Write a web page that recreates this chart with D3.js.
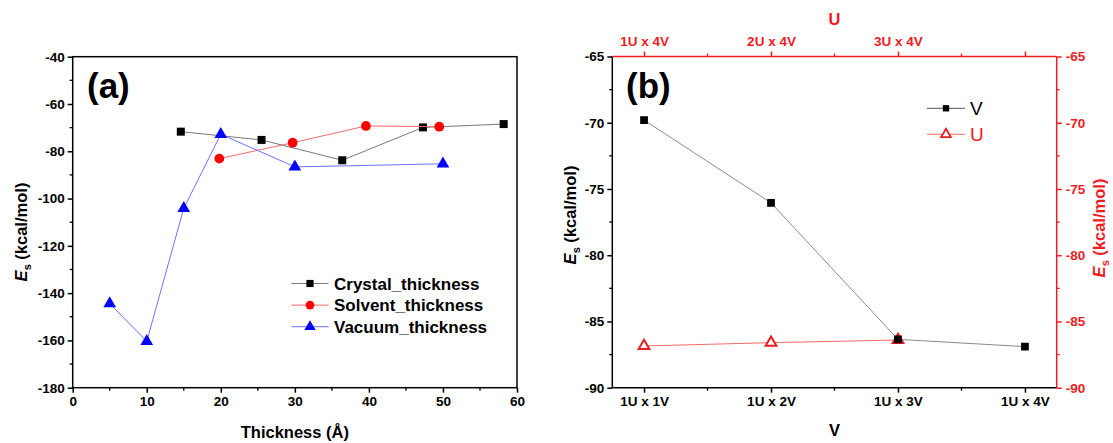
<!DOCTYPE html>
<html>
<head>
<meta charset="utf-8">
<script src="https://cdn.jsdelivr.net/npm/d3@7"></script>
<style>
  body { margin: 0; background: #fff; }
  svg text { font-family: "Liberation Sans", Arial, sans-serif; }
</style>
</head>
<body>
<div id="chart"></div>
<script>
// panel (a) data
var crystalX = [14.6, 25.5, 36.4, 47.3, 58.2];
var crystalY = [-71.7, -75.2, -83.8, -69.9, -68.5];
var solventX = [19.8, 29.7, 39.6, 49.5];
var solventY = [-83.1, -76.4, -69.3, -69.6];
var vacuumX = [5, 10, 15, 20, 30, 50];
var vacuumY = [-144.4, -160.4, -104.1, -72.8, -86.6, -85.3];
var aXTicks = [0, 10, 20, 30, 40, 50, 60];
var aYTicks = [-40, -60, -80, -100, -120, -140, -160, -180];

// panel (b) data
var vLabels = ["1U x 1V", "1U x 2V", "1U x 3V", "1U x 4V"];
var uLabels = ["1U x 4V", "2U x 4V", "3U x 4V", ""];
var vValues = [-69.8, -76.05, -86.35, -86.9];
var uValues = [-86.85, -86.6, -86.4];
var bYTicks = [-65, -70, -75, -80, -85, -90];

const W = 1113, H = 443;
const tickFont = 13.5, titleFont = 16.5;
var svg = d3.select("#chart").append("svg")
    .attr("width", W).attr("height", H);

var fmt = d => String(d); // plain hyphen minus like the original

function esTitle(g, x, y, color) {
    var t = g.append("text")
        .attr("transform", "translate(" + x + "," + y + ") rotate(-90)")
        .attr("text-anchor", "middle")
        .attr("font-size", titleFont).attr("font-weight", "bold")
        .attr("fill", color);
    t.append("tspan").attr("font-style", "italic").text("E");
    t.append("tspan").attr("font-size", 11).attr("dy", 4).text("s");
    t.append("tspan").attr("dy", -4).text(" (kcal/mol)");
}

function minorTicks(lo, hi, step) {
    var out = [];
    for (var v = lo; v <= hi + 1e-9; v += step) out.push(+v.toFixed(4));
    return out;
}

function styleAxis(g, color) {
    g.select(".domain").remove();
    g.selectAll(".tick line").attr("stroke", color).attr("stroke-width", 1.5);
    g.selectAll(".tick text").attr("font-size", tickFont).attr("font-weight", "bold")
        .attr("fill", color).attr("font-family", "Liberation Sans, Arial, sans-serif");
}

// ---------------- panel (a) ----------------
var a = {left: 72.7, right: 517, top: 56.7, bottom: 387.7};
var ax = d3.scaleLinear().domain([0, 60]).range([a.left, a.right]);
var ay = d3.scaleLinear().domain([-180, -40]).range([a.bottom, a.top]);
var ga = svg.append("g");

// frame
ga.append("rect").attr("x", a.left).attr("y", a.top)
    .attr("width", a.right - a.left).attr("height", a.bottom - a.top)
    .attr("fill", "none").attr("stroke", "#000").attr("stroke-width", 1.5);

// minor ticks
ga.selectAll("line.mx").data(minorTicks(5, 55, 10)).enter().append("line")
    .attr("x1", d => ax(d)).attr("x2", d => ax(d))
    .attr("y1", a.bottom).attr("y2", a.bottom + 3)
    .attr("stroke", "#000").attr("stroke-width", 1.3);
ga.selectAll("line.my").data(minorTicks(-170, -50, 20)).enter().append("line")
    .attr("y1", d => ay(d)).attr("y2", d => ay(d))
    .attr("x1", a.left).attr("x2", a.left - 3)
    .attr("stroke", "#000").attr("stroke-width", 1.3);

styleAxis(ga.append("g").attr("transform", "translate(0," + a.bottom + ")")
    .call(d3.axisBottom(ax).tickValues(aXTicks).tickFormat(fmt).tickSize(5).tickPadding(4)), "#000");
styleAxis(ga.append("g").attr("transform", "translate(" + a.left + ",0)")
    .call(d3.axisLeft(ay).tickValues(aYTicks).tickFormat(fmt).tickSize(5).tickPadding(3)), "#000");

ga.append("text").attr("x", (a.left + a.right) / 2).attr("y", 438)
    .attr("text-anchor", "middle").attr("font-size", titleFont).attr("font-weight", "bold")
    .text("Thickness (Å)");
esTitle(ga, 27, 232, "#000");

ga.append("text").attr("x", 87).attr("y", 98)
    .attr("font-size", 35).attr("font-weight", "bold").text("(a)");

var seriesA = [
    {name: "Crystal_thickness", xs: crystalX, ys: crystalY, line: "#7a7a7a", fill: "#000", sym: d3.symbolSquare, size: 64},
    {name: "Solvent_thickness", xs: solventX, ys: solventY, line: "#f26b6b", fill: "#ff0000", sym: d3.symbolCircle, size: 75},
    {name: "Vacuum_thickness", xs: vacuumX, ys: vacuumY, line: "#7070ff", fill: "#0000ff", sym: d3.symbolTriangle, size: 70}
];
var lineGen = d3.line().x(d => ax(d[0])).y(d => ay(d[1]));
seriesA.forEach(function(s) {
    var pts = s.xs.map((x, i) => [x, s.ys[i]]);
    ga.append("path").datum(pts).attr("d", lineGen)
        .attr("fill", "none").attr("stroke", s.line).attr("stroke-width", 1);
    ga.selectAll(null).data(pts).enter().append("path")
        .attr("d", d3.symbol().type(s.sym).size(s.size))
        .attr("transform", d => "translate(" + ax(d[0]) + "," + ay(d[1]) + ")")
        .attr("fill", s.fill);
});

// legend (a)
seriesA.forEach(function(s, i) {
    var ly = 283.5 + i * 21.6;
    ga.append("line").attr("x1", 291.5).attr("x2", 328.5).attr("y1", ly).attr("y2", ly)
        .attr("stroke", s.line).attr("stroke-width", 1);
    ga.append("path").attr("d", d3.symbol().type(s.sym).size(s.size * 0.8))
        .attr("transform", "translate(310," + ly + ")").attr("fill", s.fill);
    ga.append("text").attr("x", 334).attr("y", ly + 6)
        .attr("font-size", 17).attr("font-weight", "bold").text(s.name);
});

// ---------------- panel (b) ----------------
var b = {left: 612.3, right: 1056.7, top: 56.5, bottom: 387.7};
var bx = d3.scaleLinear().domain([0.75, 4.25]).range([b.left, b.right]);
var by = d3.scaleLinear().domain([-90, -65]).range([b.bottom, b.top]);
var gb = svg.append("g");
var red = "#ee1c24";

gb.append("line").attr("x1", b.left).attr("x2", b.left).attr("y1", b.top).attr("y2", b.bottom)
    .attr("stroke", "#000").attr("stroke-width", 1.5);
gb.append("line").attr("x1", b.left).attr("x2", b.right).attr("y1", b.bottom).attr("y2", b.bottom)
    .attr("stroke", "#000").attr("stroke-width", 1.5);
gb.append("line").attr("x1", b.left).attr("x2", b.right).attr("y1", b.top).attr("y2", b.top)
    .attr("stroke", red).attr("stroke-width", 1.5);
gb.append("line").attr("x1", b.right).attr("x2", b.right).attr("y1", b.top).attr("y2", b.bottom)
    .attr("stroke", red).attr("stroke-width", 1.5);

// minor ticks
var bMinorX = [1.5, 2.5, 3.5];
gb.selectAll(null).data(bMinorX).enter().append("line")
    .attr("x1", d => bx(d)).attr("x2", d => bx(d)).attr("y1", b.bottom).attr("y2", b.bottom + 3)
    .attr("stroke", "#000").attr("stroke-width", 1.3);
gb.selectAll(null).data(bMinorX).enter().append("line")
    .attr("x1", d => bx(d)).attr("x2", d => bx(d)).attr("y1", b.top).attr("y2", b.top - 3)
    .attr("stroke", red).attr("stroke-width", 1.3);
var bMinorY = minorTicks(-87.5, -67.5, 5);
gb.selectAll(null).data(bMinorY).enter().append("line")
    .attr("y1", d => by(d)).attr("y2", d => by(d)).attr("x1", b.left).attr("x2", b.left - 3)
    .attr("stroke", "#000").attr("stroke-width", 1.3);
gb.selectAll(null).data(bMinorY).enter().append("line")
    .attr("y1", d => by(d)).attr("y2", d => by(d)).attr("x1", b.right).attr("x2", b.right + 3)
    .attr("stroke", red).attr("stroke-width", 1.3);

var cats = [1, 2, 3, 4];
styleAxis(gb.append("g").attr("transform", "translate(0," + b.bottom + ")")
    .call(d3.axisBottom(bx).tickValues(cats).tickFormat((d, i) => vLabels[i]).tickSize(5).tickPadding(4)), "#000");
styleAxis(gb.append("g").attr("transform", "translate(0," + b.top + ")")
    .call(d3.axisTop(bx).tickValues(cats).tickFormat((d, i) => uLabels[i]).tickSize(5).tickPadding(6)), red);
styleAxis(gb.append("g").attr("transform", "translate(" + b.left + ",0)")
    .call(d3.axisLeft(by).tickValues(bYTicks).tickFormat(fmt).tickSize(5).tickPadding(3)), "#000");
styleAxis(gb.append("g").attr("transform", "translate(" + b.right + ",0)")
    .call(d3.axisRight(by).tickValues(bYTicks).tickFormat(fmt).tickSize(5).tickPadding(4)), red);

gb.append("text").attr("x", (b.left + b.right) / 2).attr("y", 436)
    .attr("text-anchor", "middle").attr("font-size", titleFont).attr("font-weight", "bold").text("V");
gb.append("text").attr("x", (b.left + b.right) / 2).attr("y", 25)
    .attr("text-anchor", "middle").attr("font-size", titleFont).attr("font-weight", "bold")
    .attr("fill", red).text("U");
esTitle(gb, 576, 215, "#000");
esTitle(gb, 1105, 228, red);

gb.append("text").attr("x", 626).attr("y", 98)
    .attr("font-size", 35).attr("font-weight", "bold").text("(b)");

var bLine = d3.line().x((d, i) => bx(i + 1)).y(d => by(d));
gb.append("path").datum(vValues).attr("d", bLine)
    .attr("fill", "none").attr("stroke", "#8a8a8a").attr("stroke-width", 1);
gb.append("path").datum(uValues).attr("d", bLine)
    .attr("fill", "none").attr("stroke", "#f26b6b").attr("stroke-width", 1);
gb.selectAll(null).data(uValues).enter().append("path")
    .attr("d", d3.symbol().type(d3.symbolTriangle).size(50))
    .attr("transform", (d, i) => "translate(" + bx(i + 1) + "," + by(d) + ")")
    .attr("fill", "#fff").attr("stroke", red).attr("stroke-width", 2);
gb.selectAll(null).data(vValues).enter().append("path")
    .attr("d", d3.symbol().type(d3.symbolSquare).size(60))
    .attr("transform", (d, i) => "translate(" + bx(i + 1) + "," + by(d) + ")")
    .attr("fill", "#000");

// legend (b)
var legB = [
    {name: "V", color: "#000", line: "#555", sym: d3.symbolSquare, fill: "#000", stroke: "none"},
    {name: "U", color: red, line: "#f26b6b", sym: d3.symbolTriangle, fill: "#fff", stroke: red}
];
legB.forEach(function(s, i) {
    var ly = 108.3 + i * 26;
    gb.append("line").attr("x1", 927).attr("x2", 965).attr("y1", ly).attr("y2", ly)
        .attr("stroke", s.line).attr("stroke-width", 1);
    gb.append("path").attr("d", d3.symbol().type(s.sym).size(40))
        .attr("transform", "translate(946," + ly + ")")
        .attr("fill", s.fill).attr("stroke", s.stroke).attr("stroke-width", 1.8);
    gb.append("text").attr("x", 970).attr("y", ly + 7)
        .attr("font-size", 19).attr("fill", s.color).text(s.name);
});
</script>
</body>
</html>
